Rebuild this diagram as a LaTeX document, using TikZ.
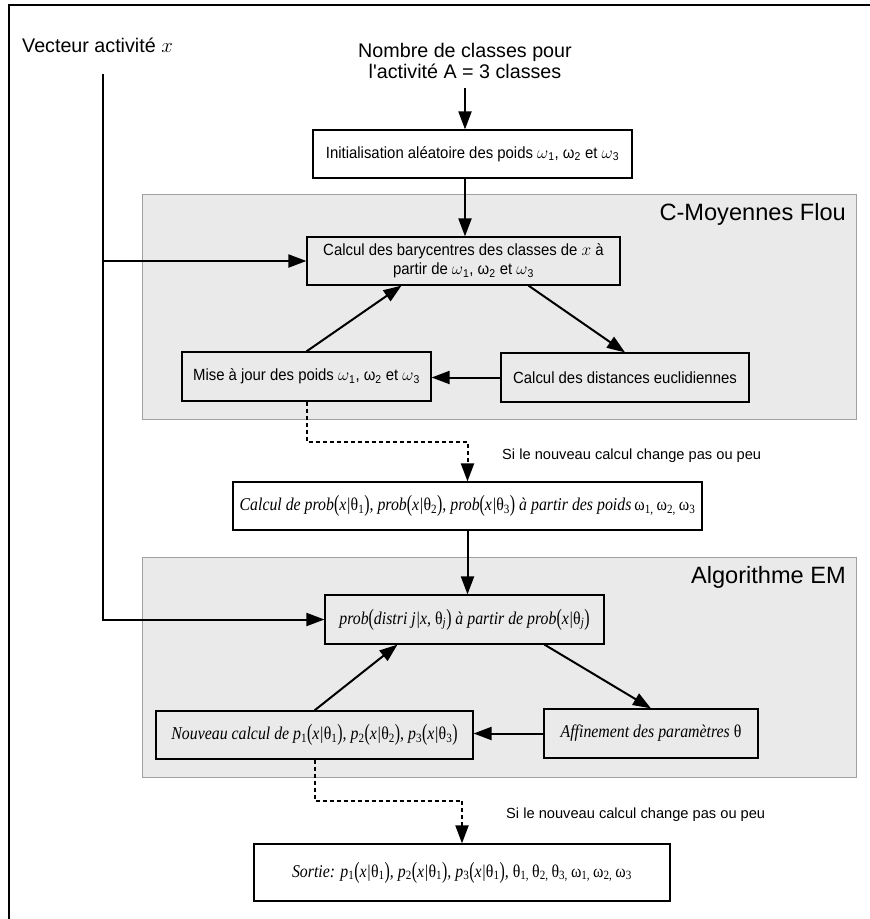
\documentclass[tikz,border=0pt]{standalone}
\usepackage{fontspec}
\setmainfont{Liberation Sans}
\newfontfamily\boxsans[FakeStretch=0.92]{Liberation Sans}
\newfontfamily\serifit[FakeStretch=0.88]{Liberation Serif}
\usepackage{graphicx}
\usetikzlibrary{arrows.meta,calc}
\newcommand{\lpar}{\textup{\raisebox{-0.12ex}{\scalebox{1}[1.3]{(}}}}
\newcommand{\rpar}{\textup{\raisebox{-0.12ex}{\scalebox{1}[1.3]{)}}}}
\newcommand{\thet}[1]{\textup{θ\textsubscript{#1}}}
\newcommand{\omg}[1]{\textup{ω\textsubscript{#1}}}
\newcommand{\psub}[1]{p\textsubscript{\textup{#1}}}
\definecolor{grpfill}{HTML}{EAEAEA}
\definecolor{grpline}{HTML}{A0A0A0}
\tikzset{
  box/.style={draw=black, line width=1.2pt, rectangle, inner sep=0pt, align=center,
    font=\boxsans\fontsize{16.2}{19}\selectfont},
  ibox/.style={box, font=\serifit\itshape\fontsize{18}{20}\selectfont},
  grp/.style={draw=grpline, fill=grpfill, line width=1pt},
  arr/.style={-{Triangle[length=18pt,width=13pt]}, line width=2pt},
  dsh/.style={arr, dash pattern=on 4pt off 3pt},
  ttl/.style={inner sep=0pt, font=\fontsize{19.7}{21}\selectfont},
  gtl/.style={inner sep=0pt, font=\fontsize{23.6}{26}\selectfont, anchor=base east},
  note/.style={inner sep=0pt, font=\fontsize{14.65}{17}\selectfont, anchor=base west},
}
\begin{document}
\begin{tikzpicture}[x=1pt,y=-1pt]
\useasboundingbox (0,0) rectangle (870,919);
% frame
\draw[line width=1.5pt] (9,919) -- (9,5) -- (870,5);
% groups
\draw[grp] (142,194) rectangle (856,419);
\draw[grp] (142,557) rectangle (856,777);
\node[gtl] (t1) at (846,220) {C-Moyennes Flou};
\node[gtl] (t2) at (846,583) {Algorithme EM};
% inputs
\node[ttl, anchor=base west] (vec) at (22,52) {Vecteur activité $x$};
\node[ttl, anchor=north, align=center] (nb) at (465,43) {Nombre de classes pour\\l\textquotesingle activité A = 3 classes};
\coordinate (vtop) at (103,74);
% boxes
\node[box, minimum width=319pt, minimum height=48pt] (init) at (472.5,154)
  {Initialisation aléatoire des poids $\omega$\textsubscript{1}, ω\textsubscript{2} et $\omega$\textsubscript{3}};
\node[box, minimum width=313pt, minimum height=48pt] (bary) at (463.5,261)
  {Calcul des barycentres des classes de $x$ à\\partir de $\omega$\textsubscript{1}, ω\textsubscript{2} et $\omega$\textsubscript{3}};
\node[box, minimum width=248pt, minimum height=49pt] (dist) at (625,377.5)
  {Calcul des distances euclidiennes};
\node[box, minimum width=249pt, minimum height=49pt] (mise) at (306.5,376.5)
  {Mise à jour des poids $\omega$\textsubscript{1}, ω\textsubscript{2} et $\omega$\textsubscript{3}};
\node[ibox, minimum width=469pt, minimum height=48pt] (calc) at (467.5,506)
  {Calcul de prob\lpar x|\thet{1}\rpar, prob\lpar x|\thet{2}\rpar, prob\lpar x|\thet{3}\rpar\ à partir des poids\,\omg{1,}\,\omg{2,}\,\omg{3}};
\node[ibox, minimum width=279pt, minimum height=49pt] (prob) at (464.5,619.5)
  {prob\lpar distri j|x, \thet{\textit{j}}\rpar\ à partir de prob\lpar x|\thet{\textit{j}}\rpar};
\node[ibox, minimum width=214pt, minimum height=49pt] (aff) at (651,733.5)
  {Affinement des paramètres \textup{θ}};
\node[ibox, minimum width=317pt, minimum height=48pt] (nouv) at (314.5,735)
  {Nouveau calcul de \psub{1}\lpar x|\thet{1}\rpar, \psub{2}\lpar x|\thet{2}\rpar, \psub{3}\lpar x|\thet{3}\rpar};
\node[ibox, minimum width=416pt, minimum height=57pt] (sortie) at (462,872.5)
  {Sortie: \psub{1}\lpar x|\thet{1}\rpar, \psub{2}\lpar x|\thet{1}\rpar, \psub{3}\lpar x|\thet{1}\rpar, \thet{1,}\,\thet{2,}\,\thet{3,}\,\omg{1,}\,\omg{2,}\,\omg{3}};
% notes
\node[note] (n1) at (502,459) {Si le nouveau calcul change pas ou peu};
\node[note] (n2) at (506,818) {Si le nouveau calcul change pas ou peu};
% connectors
\draw[arr] ([yshift=-9pt]nb.south) -- (init.north -| nb.south);
\draw[arr] (init.south -| nb.south) -- (bary.north -| nb.south);
\draw[arr] (vtop) |- (prob.west);
\draw[arr] (vtop |- bary.west) -- (bary.west);
\draw[arr] ([xshift=65pt]bary.south) -- (dist.north);
\draw[arr] (dist.west) -- (dist.west -| mise.east);
\draw[arr] (mise.north) -- ([xshift=-62pt]bary.south);
\draw[dsh] (mise.south) -- ++(0,40) -| (calc.north);
\draw[arr] (calc.south) -- (calc.south |- prob.north);
\draw[arr] ([xshift=80pt]prob.south) -- (aff.north);
\draw[arr] (aff.west) -- (aff.west -| nouv.east);
\draw[arr] (nouv.north) -- ([xshift=-67pt]prob.south);
\draw[dsh] (nouv.south) -- ++(0,41) -| (sortie.north);
\end{tikzpicture}
\end{document}
